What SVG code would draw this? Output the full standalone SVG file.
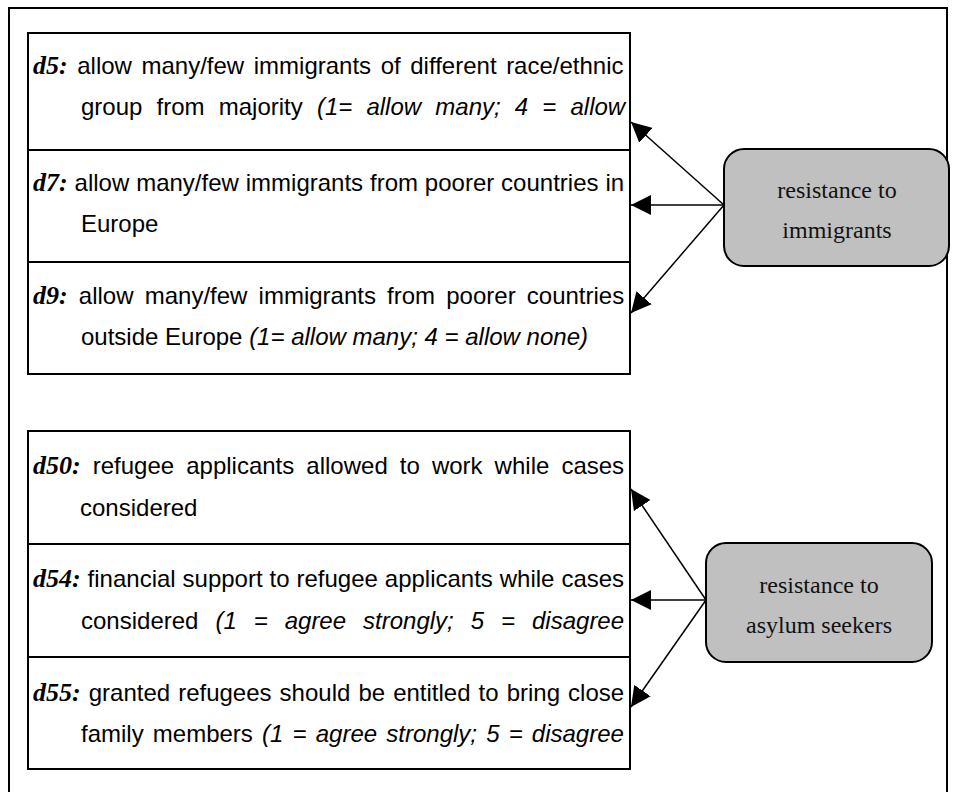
<svg xmlns="http://www.w3.org/2000/svg" width="956" height="792" viewBox="0 0 956 792">
<defs>
<style>
.frame{fill:none;stroke:#000;stroke-width:2}
.cell{fill:#fff;stroke:#000;stroke-width:2}
.node{fill:#c0c0c0;stroke:#000;stroke-width:2}
.t{font-family:"Liberation Sans",Arial,sans-serif;font-size:24px;fill:#000}
.lab{font-family:"Liberation Serif","Times New Roman",serif;font-weight:bold;font-style:italic;font-size:26px}
.it{font-style:italic}
.nt{font-family:"Liberation Serif","Times New Roman",serif;font-size:24px;fill:#111;text-anchor:middle}
.conn{stroke:#000;stroke-width:1.5;fill:none;marker-end:url(#ah)}
</style>
<marker id="ah" markerUnits="userSpaceOnUse" markerWidth="20" markerHeight="20" refX="20" refY="10" orient="auto" viewBox="0 0 20 20">
<path d="M0,0 L20,10 L0,20 z" fill="#000"/>
</marker>
</defs>
<rect class="frame" x="9" y="8" width="938" height="800"/>
<g id="box-immigrants">
<rect class="cell" x="28" y="33" width="602" height="341"/>
<line class="cell" x1="28" y1="150" x2="630" y2="150"/>
<line class="cell" x1="28" y1="262" x2="630" y2="262"/>
</g>
<g id="d5">
<text class="t" x="33" y="74" style="word-spacing:2.9px"><tspan class="lab">d5:</tspan> allow many/few immigrants of different race/ethnic</text>
<text class="t" x="81" y="115" style="word-spacing:7.5px">group from majority <tspan class="it">(1= allow many; 4 = allow</tspan></text>
</g>
<g id="d7">
<text class="t" x="33" y="191" style="word-spacing:0.22px"><tspan class="lab">d7:</tspan> allow many/few immigrants from poorer countries in</text>
<text class="t" x="81" y="232">Europe</text>
</g>
<g id="d9">
<text class="t" x="33" y="304" style="word-spacing:4.5px"><tspan class="lab">d9:</tspan> allow many/few immigrants from poorer countries</text>
<text class="t" x="81" y="345">outside Europe <tspan class="it">(1= allow many; 4 = allow none)</tspan></text>
</g>
<g id="box-asylum">
<rect class="cell" x="28" y="431" width="602" height="338"/>
<line class="cell" x1="28" y1="544" x2="630" y2="544"/>
<line class="cell" x1="28" y1="657" x2="630" y2="657"/>
</g>
<g id="d50">
<text class="t" x="33" y="474" style="word-spacing:5.4px"><tspan class="lab">d50:</tspan> refugee applicants allowed to work while cases</text>
<text class="t" x="80" y="516">considered</text>
</g>
<g id="d54">
<text class="t" x="33" y="587" style="word-spacing:0.25px"><tspan class="lab">d54:</tspan> financial support to refugee applicants while cases</text>
<text class="t" x="81" y="629" style="word-spacing:10.3px">considered <tspan class="it">(1 = agree strongly; 5 = disagree</tspan></text>
</g>
<g id="d55">
<text class="t" x="33" y="701" style="word-spacing:1.38px"><tspan class="lab">d55:</tspan> granted refugees should be entitled to bring close</text>
<text class="t" x="81" y="742" style="word-spacing:2.5px">family members <tspan class="it">(1 = agree strongly; 5 = disagree</tspan></text>
</g>
<g id="resistance-immigrants">
<rect class="node" x="724" y="149" width="225" height="117" rx="20" ry="20"/>
<text class="nt" x="837" y="198">resistance to</text>
<text class="nt" x="837" y="238">immigrants</text>
</g>
<g id="resistance-asylum">
<rect class="node" x="706" y="543" width="226" height="119" rx="20" ry="20"/>
<text class="nt" x="819" y="593">resistance to</text>
<text class="nt" x="819" y="633">asylum seekers</text>
</g>
<g id="connectors">
<line class="conn" x1="724" y1="205" x2="631" y2="122"/>
<line class="conn" x1="724" y1="205" x2="631" y2="205"/>
<line class="conn" x1="724" y1="205" x2="631" y2="313"/>
<line class="conn" x1="706" y1="600" x2="631" y2="489"/>
<line class="conn" x1="706" y1="600" x2="631" y2="600"/>
<line class="conn" x1="706" y1="600" x2="631" y2="707"/>
</g>
</svg>
